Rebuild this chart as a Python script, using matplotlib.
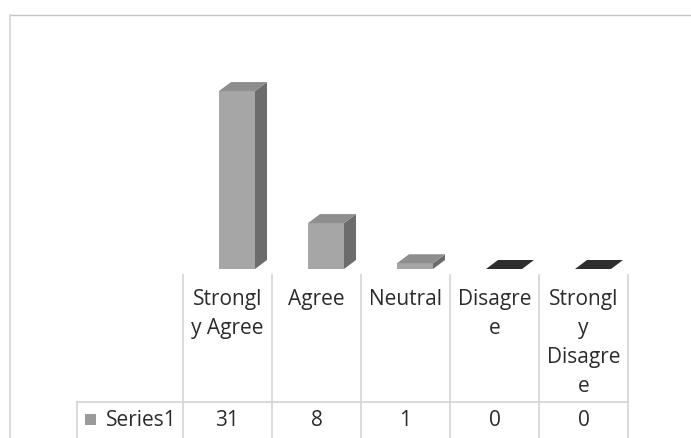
import matplotlib
matplotlib.use('Agg')
import matplotlib.pyplot as plt
from matplotlib.patches import Polygon, Rectangle

# data
categories = ['Strongly Agree', 'Agree', 'Neutral', 'Disagree', 'Strongly Disagree']
header_lines = [['Strongl', 'y Agree'], ['Agree'], ['Neutral'], ['Disagre', 'e'], ['Strongl', 'y', 'Disagre', 'e']]
series_name = 'Series1'
values = [31, 8, 1, 0, 0]

W, H = 691, 439
plt.rcParams['font.family'] = ['Open Sans', 'DejaVu Sans']
fig = plt.figure(figsize=(W / 100, H / 100), dpi=100)
fig.patch.set_facecolor('white')

# pixel geometry of the plot area
col_left, col_w = 183, 89
base_y, px_per_unit, top_y = 270, 5.74, 20
n = len(categories)

ax = fig.add_axes([col_left / W, 1 - base_y / H, n * col_w / W, (base_y - top_y) / H])
ax.set_xlim(-0.5, n - 0.5)
ax.set_ylim(0, (base_y - top_y) / px_per_unit)
ax.axis('off')

off = 8.5 / col_w
bw = 36 / col_w
dx = 12 / col_w
dy = 9 / px_per_unit

front_c = '#a6a6a6'
side_c = '#6c6c6c'
top_c = '#8e8e8e'
for i, v in enumerate(values):
    x0 = i - off
    if v > 0:
        ax.bar(x0, v, width=bw, align='edge', color=front_c, edgecolor='none', zorder=3)
        ax.add_patch(Polygon([(x0 + bw, 0), (x0 + bw + dx, dy), (x0 + bw + dx, v + dy), (x0 + bw, v)],
                             closed=True, facecolor=side_c, edgecolor='none', zorder=2))
        ax.add_patch(Polygon([(x0, v), (x0 + dx, v + dy), (x0 + bw + dx, v + dy), (x0 + bw, v)],
                             closed=True, facecolor=top_c, edgecolor='none', zorder=4))
    else:
        ax.add_patch(Polygon([(x0, 0), (x0 + dx, dy), (x0 + bw + dx, dy), (x0 + bw, 0)],
                             closed=True, facecolor='#2e2e2e', edgecolor='none', zorder=4))

# overlay in pixel coordinates for frame and data table
ov = fig.add_axes([0, 0, 1, 1])
ov.set_xlim(0, W)
ov.set_ylim(H, 0)
ov.axis('off')
ov.patch.set_alpha(0)

line_c = '#d4d4d4'
ov.plot([10, W], [16, 16], color='#c4c4c4', lw=1)
ov.plot([10, 10], [16, H], color=line_c, lw=1.2)

for k in range(n + 1):
    xk = col_left + k * col_w
    ov.plot([xk, xk], [276, H], color=line_c, lw=1.2)
ov.plot([77, col_left + n * col_w], [403, 403], color=line_c, lw=1.2)
ov.plot([77, 77], [403, H], color=line_c, lw=1.2)

txt_c = '#2b2b2b'
fs = 15
for i, lines in enumerate(header_lines):
    cx = col_left + (i + 0.5) * col_w
    for j, s in enumerate(lines):
        ov.text(cx, 300 + j * 29, s, ha='center', va='center', fontsize=fs, color=txt_c)
    ov.text(cx, 421, str(values[i]), ha='center', va='center', fontsize=fs, color=txt_c)

ov.add_patch(Rectangle((85, 415), 11, 11, facecolor='#9a9a9a', edgecolor='none'))
ov.text(106, 421, series_name, ha='left', va='center', fontsize=fs, color=txt_c)

fig.savefig('out.png', dpi=100, facecolor='white')
